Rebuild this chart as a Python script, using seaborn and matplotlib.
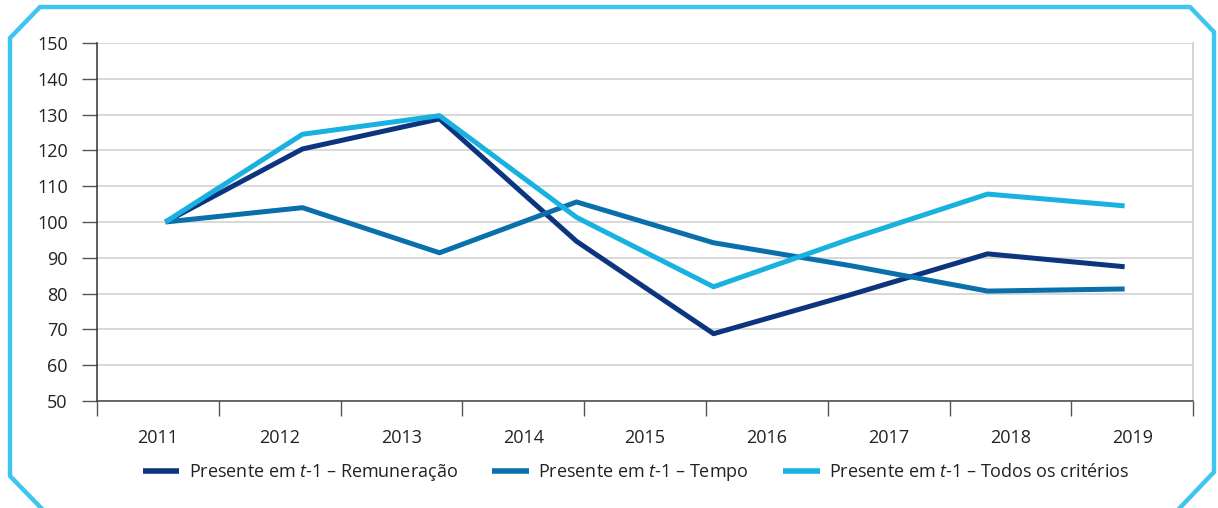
import matplotlib
matplotlib.use("Agg")
import matplotlib.pyplot as plt
from matplotlib.lines import Line2D
import numpy as np
import pandas as pd
import seaborn as sns

# data (8 points per series, 9 year labels on the axis)
years = ["2011", "2012", "2013", "2014", "2015", "2016", "2017", "2018", "2019"]
remuneracao = [100, 120.4, 128.8, 94.6, 68.8, 79.7, 91.1, 87.5]
tempo = [100, 104.0, 91.4, 105.6, 94.2, 87.8, 80.7, 81.3]
todos = [100, 124.5, 129.7, 101.3, 81.9, 95.3, 107.8, 104.5]
labels = [
    "Presente em $t$-1 – Remuneração",
    "Presente em $t$-1 – Tempo",
    "Presente em $t$-1 – Todos os critérios",
]
colors = ["#0c347f", "#0a70ab", "#19b1e0"]

sns.set_theme(style="white")
plt.rcParams["font.family"] = ["Open Sans", "DejaVu Sans"]
plt.rcParams["mathtext.fontset"] = "custom"
plt.rcParams["mathtext.it"] = "Open Sans:italic"
plt.rcParams["mathtext.rm"] = "Open Sans"

n = len(remuneracao)
df = pd.DataFrame({
    "pos": list(range(n)) * 3,
    "valor": remuneracao + tempo + todos,
    "serie": [labels[0]] * n + [labels[1]] * n + [labels[2]] * n,
})

fig = plt.figure(figsize=(12.18, 5.08), dpi=100)
ax = fig.add_axes([0.0796, 0.2106, 0.9, 0.7048])

ax = sns.lineplot(data=df, x="pos", y="valor", hue="serie", palette=colors,
                  linewidth=3.6, ax=ax, legend=True, solid_capstyle="butt")

ax.set_xlim(-0.5, n - 0.5)
ax.set_ylim(50, 150)
ax.set_yticks(np.arange(50, 151, 10))
ax.yaxis.grid(True, color="#d6d6d6", linewidth=1.3)
ax.set_axisbelow(True)
ax.set_xlabel("")
ax.set_ylabel("")

fs = 13

# year axis: 9 categories spread over the same width
bounds = np.linspace(-0.5, n - 0.5, len(years) + 1)
centers = (bounds[:-1] + bounds[1:]) / 2
ax.set_xticks(bounds)
ax.set_xticklabels([])
ax.set_xticks(centers, minor=True)
ax.set_xticklabels(years, minor=True)
ax.tick_params(axis="x", which="major", bottom=True, length=11, width=1, color="#555555")
ax.tick_params(axis="x", which="minor", bottom=True, length=0, pad=20, labelsize=fs, labelcolor="#222222")
ax.tick_params(axis="y", left=True, length=11, width=1, color="#555555", pad=10, labelsize=fs, labelcolor="#222222")

ax.spines["top"].set_visible(False)
ax.spines["left"].set_color("#333333")
ax.spines["bottom"].set_color("#444444")
ax.spines["right"].set_color("#cfcfcf")
ax.spines["left"].set_linewidth(1.1)
ax.spines["bottom"].set_linewidth(1.1)

sns.move_legend(ax, "center", bbox_to_anchor=(0.5226, 0.0695), bbox_transform=fig.transFigure,
                ncol=3, frameon=False, title=None, fontsize=fs, handlelength=2.0,
                handletextpad=0.55, columnspacing=1.9)
for h in ax.get_legend().get_lines():
    h.set_linewidth(4)
for t in ax.get_legend().get_texts():
    t.set_color("#222222")

# frame with cut corners around the chart
W, H = 1218, 508
px = [45, 10, 10, 40, 1190, 1214, 1214, 1176]
py = [512, 476, 38, 7, 7, 32, 472, 512]
fig.add_artist(Line2D([p / W for p in px], [1 - p / H for p in py],
                      transform=fig.transFigure, color="#3fc6f0", linewidth=3.2,
                      solid_joinstyle="miter"))

fig.savefig("out.png", dpi=100)
